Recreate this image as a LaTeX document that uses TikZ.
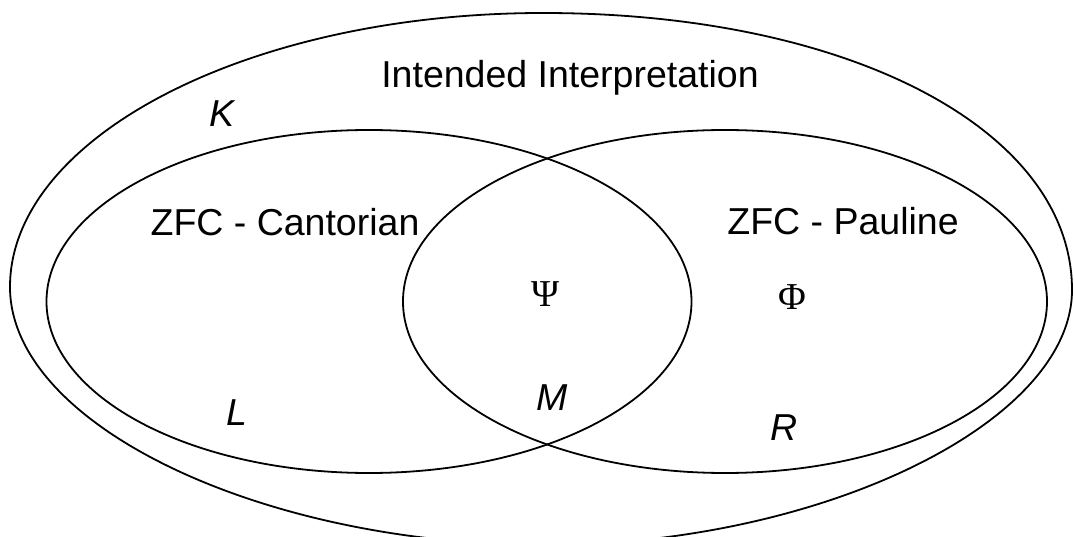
\documentclass[tikz,border=0pt]{standalone}
\usepackage{fontspec}
\setmainfont{Liberation Sans}
\newfontfamily\serifgreek{Liberation Serif}
\begin{document}
\begin{tikzpicture}[x=1pt,y=-1pt,
  setline/.style={line width=1.8pt, black},
  lbl/.style={anchor=base, inner sep=0pt, font=\fontsize{37.5}{40}\selectfont},
  ilbl/.style={lbl, font=\fontsize{37.5}{40}\selectfont\itshape},
  glbl/.style={lbl, font=\fontsize{38}{40}\selectfont\serifgreek}]
\useasboundingbox (0,0) rectangle (1074,537);
\clip (0,0) rectangle (1074,537);
% outer region
\coordinate (oL) at (10,287);
\coordinate (oT) at (543,13);
\coordinate (oR) at (1072,290);
\coordinate (oB) at (545,545);
\draw[setline] (oL)
  .. controls (10,137) and (249,13) .. (oT)
  .. controls (850,13) and (1072,130) .. (oR)
  .. controls (1072,423) and (820,545) .. (oB)
  .. controls (262,545) and (10,425) .. cycle;
% ZFC sets
\draw[setline] (369,301.5) ellipse [x radius=322.5pt, y radius=171.5pt];
\draw[setline] (725,301.5) ellipse [x radius=322pt, y radius=171.5pt];
% labels
\node[lbl] (ii) at (570,88) {Intended Interpretation};
\node[ilbl] (k) at (222,127) {K};
\node[lbl] (zc) at (285,236) {ZFC - Cantorian};
\node[lbl] (zp) at (843,235) {ZFC - Pauline};
\node[glbl] (psi) at (545.5,307) {Ψ};
\node[glbl] (phi) at (792,310) {Φ};
\node[ilbl] (m) at (552,410) {M};
\node[ilbl] (l) at (237,425) {L};
\node[ilbl] (r) at (784.5,440) {R};
\end{tikzpicture}
\end{document}
